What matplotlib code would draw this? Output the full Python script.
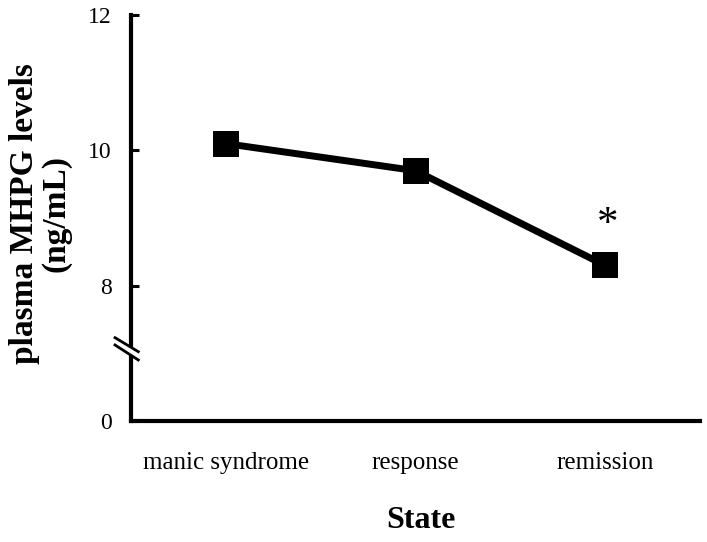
import numpy as np
import matplotlib
matplotlib.use("Agg")
import matplotlib.pyplot as plt
from matplotlib.patches import Polygon

plt.rcParams['font.family'] = ['Liberation Serif', 'DejaVu Serif']

# data
states = ['manic syndrome', 'response', 'remission']
mhpg = [10.1, 9.7, 8.3]          # ng/mL
sig = [False, False, True]       # marked with *

# broken y axis: the real 0 is drawn where 6 would be
ytick_pos = [6, 8, 10, 12]
ytick_lab = ['0', '8', '10', '12']

fig = plt.figure(figsize=(7.07, 5.42), dpi=100)
ax = fig.add_axes([0.1853, 0.2232, 0.8048, 0.7490])

x = np.arange(len(states))
ax.plot(x, mhpg, color='black', lw=5, marker='s', ms=19, mew=0,
        solid_joinstyle='miter', zorder=3)

for xi, yi, s in zip(x, mhpg, sig):
    if s:
        ax.annotate('*', (xi, yi), xytext=(2, 29), textcoords='offset points',
                    ha='center', va='center', fontsize=31)

ax.set_xlim(-0.5, 2.5)
ax.set_ylim(6, 12)
ax.set_yticks(ytick_pos)
ax.set_yticklabels(ytick_lab)
ax.set_xticks(x)
ax.set_xticklabels(states)

for s in ['top', 'right']:
    ax.spines[s].set_visible(False)
for s in ['left', 'bottom']:
    ax.spines[s].set_linewidth(3)

ax.tick_params(axis='y', direction='in', length=6, width=2.2, pad=14, labelsize=17)
ax.tick_params(axis='x', length=0, pad=22, labelsize=18)

ax.set_xlabel('State', fontsize=23, fontweight='bold')
ax.xaxis.set_label_coords(0.51, -0.245)
ax.xaxis.label.set_va('center')

ax.set_ylabel('plasma MHPG levels\n(ng/mL)', fontsize=24, fontweight='bold',
              linespacing=1.0)
ax.yaxis.set_label_coords(-0.16, 0.51)
ax.yaxis.label.set_va('center')

# axis break marks
bx = [-0.0281, 0.0128]
up = [0.2053, 0.1708]
lo = [0.1873, 0.1504]
gap = Polygon([[bx[0], up[0]], [bx[1], up[1]], [bx[1], lo[1]], [bx[0], lo[0]]],
              closed=True, facecolor='white', edgecolor='none',
              transform=ax.transAxes, clip_on=False, zorder=4)
ax.add_patch(gap)
ax.plot(bx, up, color='black', lw=2, transform=ax.transAxes, clip_on=False, zorder=5)
ax.plot(bx, lo, color='black', lw=2, transform=ax.transAxes, clip_on=False, zorder=5)

fig.savefig('out.png', dpi=100)
